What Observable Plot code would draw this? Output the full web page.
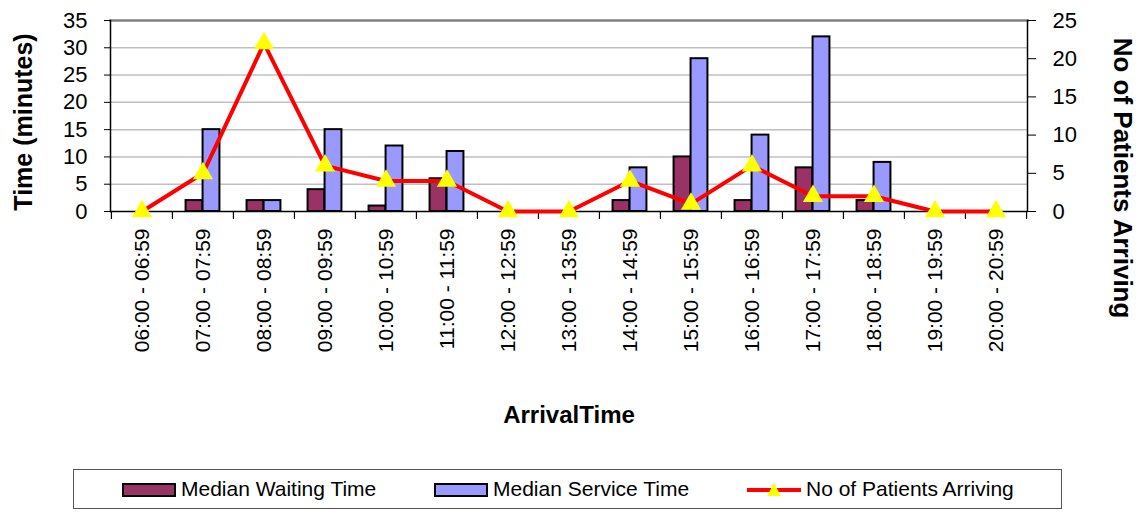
<!DOCTYPE html>
<html>
<head>
<meta charset="utf-8">
<script src="https://cdn.jsdelivr.net/npm/d3@7"></script>
<script src="https://cdn.jsdelivr.net/npm/@observablehq/plot@0.6"></script>
<style>
  body { margin: 0; background: #fff; font-family: Arial, "Liberation Sans", sans-serif; }
  #legend { position: relative; width: 1139px; height: 52px; }
  #legend .box { position: absolute; left: 73px; top: 9px; width: 989px; height: 40px; border: 1.5px solid #555; box-sizing: border-box; }
  #legend .sw { position: absolute; top: 23px; width: 54px; height: 14px; border: 2px solid #000; box-sizing: border-box; }
  #legend .lab { position: absolute; top: 16px; font-size: 21px; line-height: 26px; color: #000; white-space: nowrap; }
</style>
</head>
<body>
<div id="chart"></div>
<div id="legend"></div>
<script>
const categories = ["06:00 - 06:59","07:00 - 07:59","08:00 - 08:59","09:00 - 09:59","10:00 - 10:59","11:00 - 11:59","12:00 - 12:59","13:00 - 13:59","14:00 - 14:59","15:00 - 15:59","16:00 - 16:59","17:00 - 17:59","18:00 - 18:59","19:00 - 19:59","20:00 - 20:59"];
const waitingTime = [0, 2, 2, 4, 1, 6, 0, 0, 2, 10, 2, 8, 2, 0, 0];
const serviceTime = [0, 15, 2, 15, 12, 11, 0, 0, 8, 28, 14, 32, 9, 0, 0];
const patients = [0, 5, 22, 6, 4, 4, 0, 0, 4, 1, 6, 2, 2, 0, 0];
const leftTicks = [0, 5, 10, 15, 20, 25, 30, 35];
const rightTicks = [0, 5, 10, 15, 20, 25];
const leftMax = 35, rightMax = 25;
const ratio = leftMax / rightMax;

const W = 1139, H = 460, mL = 110, mR = 112, mT = 20, mB = 249;
const bw = (W - mL - mR) / categories.length;
const barW = 17;

const rows = categories.map((c, i) => ({cat: c, wait: waitingTime[i], serv: serviceTime[i], pat: patients[i]}));
const tickLenY = 8 * leftMax / (H - mT - mB);

const chart = Plot.plot({
  width: W, height: H,
  marginLeft: mL, marginRight: mR, marginTop: mT, marginBottom: mB,
  style: {fontFamily: "Arial, 'Liberation Sans', sans-serif", color: "#000", background: "#fff"},
  x: {domain: categories, padding: 0, label: null},
  y: {domain: [0, leftMax], label: null},
  marks: [
    Plot.ruleY(leftTicks.filter(v => v > 0 && v < leftMax), {stroke: "#c0c0c0", strokeWidth: 1.5}),
    Plot.frame({anchor: "top", stroke: "#808080", strokeWidth: 2.5}),
    Plot.barY(rows.filter(d => d.wait > 0), {x: "cat", y: "wait", fill: "#993366", stroke: "#000", strokeWidth: 2,
      insetLeft: bw / 2 - barW, insetRight: bw / 2}),
    Plot.barY(rows.filter(d => d.serv > 0), {x: "cat", y: "serv", fill: "#9999ff", stroke: "#000", strokeWidth: 2,
      insetLeft: bw / 2, insetRight: bw / 2 - barW}),
    Plot.frame({anchor: "left", stroke: "#000", strokeWidth: 1.5}),
    Plot.frame({anchor: "right", stroke: "#000", strokeWidth: 1.5}),
    Plot.ruleY([0], {stroke: "#000", strokeWidth: 1.5}),
    Plot.ruleX(categories, {x: d => d, dx: -bw / 2, y1: 0, y2: -tickLenY, stroke: "#000", strokeWidth: 1.2}),
    Plot.ruleX(categories.slice(-1), {x: d => d, dx: bw / 2, y1: 0, y2: -tickLenY, stroke: "#000", strokeWidth: 1.2}),
    Plot.axisY(leftTicks, {anchor: "left", tickSize: 6, tickPadding: 17, fontSize: 22, label: null}),
    Plot.axisY(rightTicks.map(v => v * ratio), {anchor: "right", tickSize: 8, tickPadding: 17, fontSize: 22, label: null,
      tickFormat: d => String(Math.round(d / ratio))}),
    Plot.axisX({tickRotate: -90, tickSize: 0, tickPadding: 17, fontSize: 21, label: null}),
    Plot.lineY(rows, {x: "cat", y: d => d.pat * ratio, stroke: "#ff0000", strokeWidth: 4}),
    Plot.dot(rows, {x: "cat", y: d => d.pat * ratio, symbol: "triangle", r: 7.5, fill: "#ffff00", stroke: "none"}),
    Plot.text(["Time (minutes)"], {frameAnchor: "left", textAnchor: "middle", rotate: -90, dx: -87, dy: 6, fontSize: 25, fontWeight: "bold"}),
    Plot.text(["No of Patients Arriving"], {frameAnchor: "right", textAnchor: "middle", rotate: 90, dx: 95, dy: 62, fontSize: 26, fontWeight: "bold"}),
    Plot.text(["ArrivalTime"], {frameAnchor: "bottom", dy: 211, fontSize: 24, fontWeight: "bold"})
  ]
});
document.getElementById("chart").appendChild(chart);

const legendItems = [
  {label: "Median Waiting Time", fill: "#993366", kind: "bar", x: 122},
  {label: "Median Service Time", fill: "#9999ff", kind: "bar", x: 434},
  {label: "No of Patients Arriving", kind: "line", x: 747}
];
const lg = document.getElementById("legend");
lg.innerHTML = '<div class="box"></div>';
for (const it of legendItems) {
  if (it.kind === "bar") {
    lg.insertAdjacentHTML("beforeend", `<div class="sw" style="left:${it.x}px;background:${it.fill}"></div>` +
      `<div class="lab" style="left:${it.x + 59}px">${it.label}</div>`);
  } else {
    lg.insertAdjacentHTML("beforeend",
      `<svg style="position:absolute;left:${it.x}px;top:18px" width="54" height="24">` +
      `<line x1="0" y1="12" x2="54" y2="12" stroke="#ff0000" stroke-width="4"/>` +
      `<path d="M27,5 L34,18 L20,18 Z" fill="#ffff00"/></svg>` +
      `<div class="lab" style="left:${it.x + 59}px">${it.label}</div>`);
  }
}
</script>
</body>
</html>
